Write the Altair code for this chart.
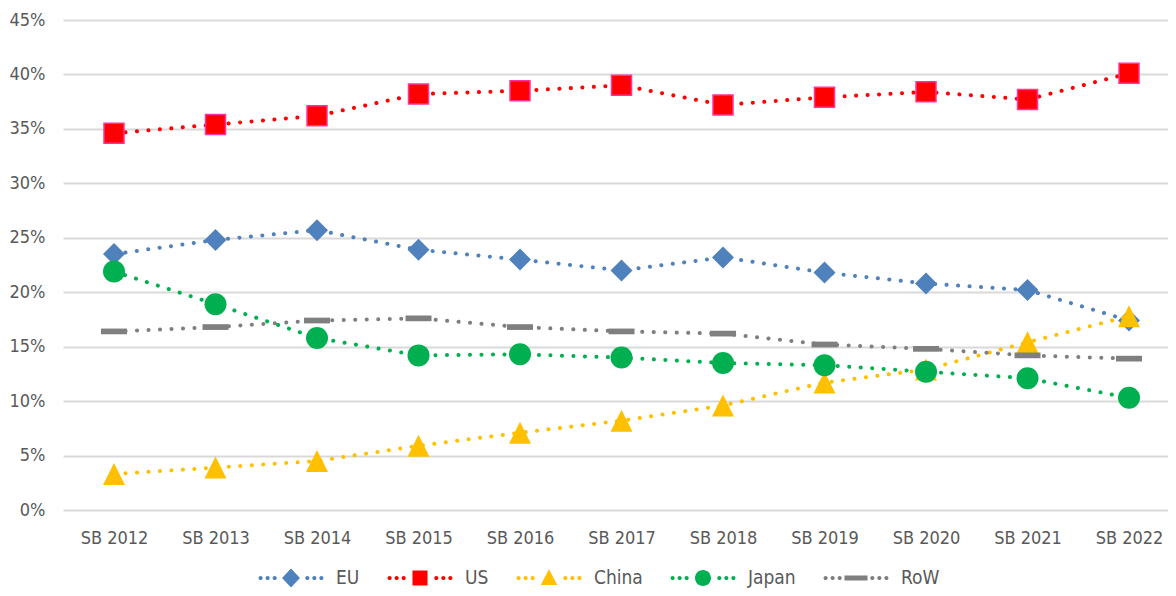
import altair as alt
import pandas as pd

years = ["SB 2012", "SB 2013", "SB 2014", "SB 2015", "SB 2016", "SB 2017",
         "SB 2018", "SB 2019", "SB 2020", "SB 2021", "SB 2022"]
series_names = ["EU", "US", "China", "Japan", "RoW"]
eu = [23.5, 24.8, 25.7, 23.9, 23.0, 22.0, 23.2, 21.8, 20.8, 20.2, 17.4]
us = [34.6, 35.4, 36.2, 38.2, 38.5, 39.0, 37.2, 37.9, 38.4, 37.7, 40.1]
china = [3.3, 3.9, 4.5, 5.9, 7.1, 8.2, 9.6, 11.7, 12.9, 15.4, 17.8]
japan = [21.9, 18.9, 15.8, 14.2, 14.3, 14.0, 13.5, 13.3, 12.7, 12.1, 10.3]
row = [16.4, 16.8, 17.4, 17.6, 16.8, 16.4, 16.2, 15.2, 14.8, 14.2, 13.9]
y_ticks = [0, 5, 10, 15, 20, 25, 30, 35, 40, 45]

colors = ["#4F81BD", "#FF0000", "#FFC000", "#00B050", "#7F7F7F"]
strokes = ["#4F81BD", "#FF3399", "#FFC000", "#00B050", "#7F7F7F"]
FONT = "DejaVu Sans Condensed, Liberation Sans Narrow, Roboto, sans-serif"

values = [eu, us, china, japan, row]
rows = []
for name, vals in zip(series_names, values):
    for i, (yr, v) in enumerate(zip(years, vals)):
        rows.append({"idx": i, "year": yr, "series": name, "value": v})
df = pd.DataFrame(rows)

year_lookup = "[" + ",".join(f"'{y}'" for y in years) + "]"

# plot markers
marker_shapes = ["diamond", "square", "M0,-1L1,1L-1,1Z", "circle", "M-1,-0.22H1V0.22H-1Z"]
marker_sizes = [484, 400, 484, 484, 676]
marker_sw = [0, 1.5, 0, 0, 0]


# legend symbols: dotted line + marker, drawn as one path
def dot(x, r=0.065):
    return f"M{x - r},0a{r},{r} 0 1,0 {2 * r},0a{r},{r} 0 1,0 {-2 * r},0Z"


dots = "".join(dot(x) for x in [-0.95, -0.73, -0.51, 0.51, 0.73, 0.95])
legend_markers = [
    "M0,-0.3L0.28,0L0,0.3L-0.28,0Z",
    "M-0.235,-0.235H0.235V0.235H-0.235Z",
    "M0,-0.27L0.26,0.22L-0.26,0.22Z",
    "M-0.25,0a0.25,0.25 0 1,0 0.5,0a0.25,0.25 0 1,0 -0.5,0Z",
    "M-0.36,-0.08H0.36V0.08H-0.36Z",
]
legend_paths = [dots + m for m in legend_markers]

base = alt.Chart(df).encode(
    x=alt.X("idx:Q", title=None,
            scale=alt.Scale(domain=[-0.5025, 10.384], nice=False, zero=False),
            axis=alt.Axis(values=list(range(len(years))),
                          labelExpr=f"{year_lookup}[datum.value]",
                          labelAngle=0, labelFontSize=18, labelColor="#595959",
                          labelFont=FONT, labelPadding=19, ticks=False,
                          domain=False, grid=False)),
    y=alt.Y("value:Q", title=None,
            scale=alt.Scale(domain=[0, 45], nice=False, zero=True),
            axis=alt.Axis(values=y_ticks, labelExpr="datum.value + '%'",
                          labelFontSize=18, labelColor="#595959", labelFont=FONT,
                          labelPadding=18, ticks=False, domain=False,
                          gridColor="#D9D9D9", gridWidth=2)),
)

layers = []
for i, name in enumerate(series_names):
    sub = base.transform_filter(alt.datum.series == name)
    layers.append(sub.mark_line(color=colors[i], strokeDash=[0.1, 11.4],
                                strokeCap="round", strokeWidth=4))
    layers.append(sub.mark_point(shape=marker_shapes[i], size=marker_sizes[i],
                                 filled=True, fill=colors[i], stroke=strokes[i],
                                 strokeWidth=marker_sw[i], opacity=1))

leg = dict(title=None, orient="none", direction="horizontal", legendX=196,
           legendY=526, symbolSize=4096, symbolOpacity=1, symbolStrokeWidth=0,
           labelFontSize=19, labelColor="#595959", labelFont=FONT,
           labelOffset=13, columnPadding=27, padding=0)

legend_layer = base.mark_point(filled=True, opacity=0).encode(
    shape=alt.Shape("series:N", sort=series_names,
                    scale=alt.Scale(domain=series_names, range=legend_paths),
                    legend=alt.Legend(**leg)),
    color=alt.Color("series:N", sort=series_names,
                    scale=alt.Scale(domain=series_names, range=colors),
                    legend=alt.Legend(**leg)),
)

chart = alt.layer(*layers, legend_layer).properties(
    width=1105, height=490,
    autosize=alt.AutoSizeParams(type="none"),
    padding={"left": 55, "top": 12, "right": 0, "bottom": 78},
).configure_view(stroke=None)

chart.save("out.html", embed_options={"renderer": "svg", "actions": False})
